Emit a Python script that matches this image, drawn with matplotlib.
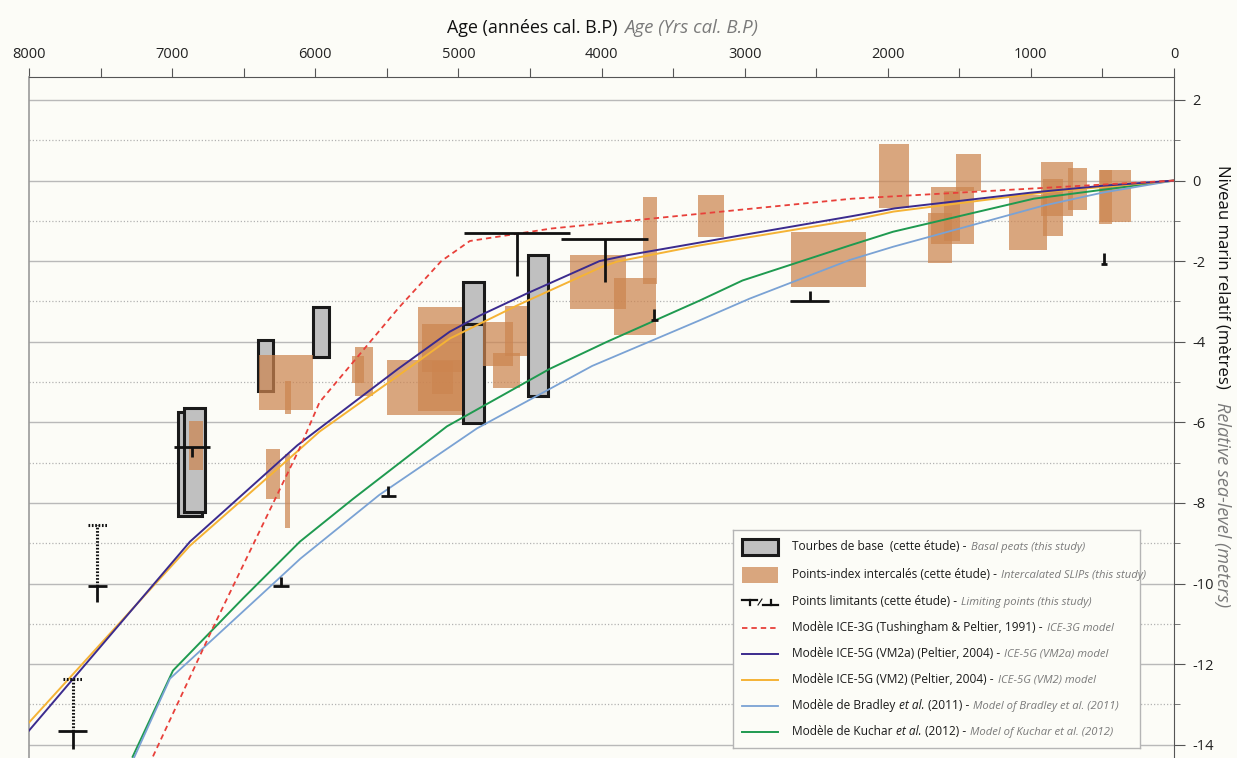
import matplotlib
matplotlib.use("Agg")
import matplotlib.pyplot as plt
from matplotlib.patches import Rectangle
from matplotlib.ticker import MultipleLocator, FixedLocator

plt.rcParams['font.family'] = ['Open Sans', 'DejaVu Sans']
plt.rcParams['axes.unicode_minus'] = False

# ---------------------------------------------------------------
# GIA model curves : age (years cal. BP) / relative sea level (m)
# ---------------------------------------------------------------
ice3g_age = [0, 1000, 2250, 3300, 4350, 4920, 5120, 5420, 5970, 6110, 6715, 7135, 7425]
ice3g_rsl = [0, -0.2, -0.45, -0.82, -1.19, -1.5, -2.0, -3.17, -5.5, -6.65, -11.1, -14.3, -16.5]

ice5g_vm2a_age = [0, 500, 1000, 1950, 2260, 3010, 3815, 4015, 4520, 4850, 5060, 5420, 5970, 6125, 6875, 8000]
ice5g_vm2a_rsl = [0, -0.13, -0.3, -0.69, -0.89, -1.35, -1.85, -2.0, -2.8, -3.35, -3.75, -4.67, -6.15, -6.57, -8.96, -13.65]

ice5g_vm2_age = [0, 850, 1960, 2260, 3315, 3890, 3990, 4590, 5060, 5420, 5970, 6125, 6875, 8000]
ice5g_vm2_rsl = [0, -0.27, -0.77, -0.99, -1.61, -2.01, -2.13, -3.1, -3.92, -4.84, -6.23, -6.72, -9.06, -13.45]

bradley_age = [0, 500, 910, 1960, 2265, 2965, 3315, 4065, 4870, 5552, 6103, 6384, 7015, 7276]
bradley_rsl = [0, -0.3, -0.62, -1.64, -1.97, -2.93, -3.47, -4.6, -6.15, -7.8, -9.38, -10.3, -12.36, -14.4]

kuchar_age = [0, 980, 1963, 2265, 3015, 3315, 3961, 4360, 5080, 5736, 6107, 6505, 6994, 7276]
kuchar_rsl = [0, -0.45, -1.27, -1.61, -2.48, -2.98, -4.0, -4.67, -6.1, -7.9, -8.96, -10.37, -12.16, -14.3]

# ---------------------------------------------------------------
# Basal peats (this study): age range and altitude range
# ---------------------------------------------------------------
peat_age_old = [6960, 6917, 6400, 6016, 4965, 4965, 4513]
peat_age_young = [6792, 6771, 6296, 5904, 4824, 4824, 4374]
peat_top = [-5.75, -5.65, -3.96, -3.13, -2.51, -3.56, -1.84]
peat_bottom = [-8.33, -8.23, -5.22, -4.38, -3.56, -6.02, -5.35]

# ---------------------------------------------------------------
# Intercalated sea-level index points (this study)
# ---------------------------------------------------------------
slip_age_old = [6882, 6344, 6211, 6393, 6211, 5722, 5743, 5499, 5282, 5254, 5185,
                4828, 4758, 4675, 4221, 3913, 3710, 3326, 2676, 2061, 1697, 1719,
                1607, 1523, 1153, 929, 915, 740, 524, 517]
slip_age_young = [6785, 6246, 6177, 6016, 6170, 5597, 5660, 4975, 4975, 4975, 5038,
                  4618, 4570, 4521, 3829, 3619, 3612, 3144, 2152, 1851, 1397, 1551,
                  1496, 1349, 887, 706, 775, 608, 433, 300]
slip_top = [-5.97, -6.67, -6.79, -4.33, -4.98, -4.13, -4.35, -4.45, -3.13, -3.56, -4.48,
            -3.51, -4.28, -3.11, -1.84, -2.41, -0.40, -0.37, -1.27, 0.90, -0.17, -0.80,
            -0.27, 0.65, -0.37, 0.47, 0.05, 0.32, 0.25, 0.27]
slip_bottom = [-7.19, -7.91, -8.61, -5.70, -5.80, -5.35, -5.02, -5.82, -5.72, -4.75, -5.30,
               -4.60, -5.15, -4.35, -3.18, -3.83, -2.56, -1.39, -2.64, -0.67, -1.57, -2.04,
               -1.49, -0.25, -1.72, -0.87, -1.37, -0.72, -1.09, -1.04]

# ---------------------------------------------------------------
# Limiting points (this study): age range, level, end of the stem
# (stem below the bar = upper limit "T", stem above = lower limit)
# ---------------------------------------------------------------
lim_age = [7525, 7696, 6860, 6236, 5495, 4592, 3975, 3633, 2541, 490]
lim_age_old = [7588, 7797, 6986, 6293, 5544, 4963, 4284, 3654, 2681, 511]
lim_age_young = [7455, 7594, 6733, 6180, 5439, 4221, 3675, 3605, 2408, 469]
lim_rsl = [-10.05, -13.65, -6.6, -10.07, -7.82, -1.29, -1.44, -3.47, -3.0, -2.08]
lim_end = [-10.45, -14.1, -6.85, -9.83, -7.57, -2.38, -2.51, -3.18, -2.75, -1.81]
# uncertain upward extension (dotted) for two of the points
lim_ext_index = [0, 1]
lim_ext_top = [-8.56, -12.36]
lim_ext_age_old = [7588, 7762]
lim_ext_age_young = [7455, 7630]

x_ticks = list(range(8000, -1, -1000))
y_ticks = list(range(-14, 3, 2))

BG = '#fcfcf7'
SLIP_COLOR = '#cc8550'
PEAT_COLOR = '#c0c0c0'
C_ICE3G = '#e8403a'
C_VM2A = '#3b2b8e'
C_VM2 = '#f5b335'
C_BRADLEY = '#7aa2d4'
C_KUCHAR = '#1f9a50'
GRAY_TXT = '#7a7a7a'

W, H = 1237, 758
fig = plt.figure(figsize=(W / 100, H / 100), dpi=100)
fig.patch.set_facecolor(BG)

AX_L, AX_R, AX_T, AX_B = 29, 1174, 77, 758
ax = fig.add_axes([AX_L / W, 1 - AX_B / H, (AX_R - AX_L) / W, (AX_B - AX_T) / H])
ax.set_facecolor(BG)
ax.set_xlim(8000, 0)
ax.set_ylim(-14.33, 2.57)

# horizontal reference lines: solid on even metres, dotted on odd metres
for lvl in range(-14, 3):
    if lvl % 2 == 0:
        ax.axhline(lvl, color='#b9b9b9', lw=1.0, zorder=0.5)
    else:
        ax.axhline(lvl, color='#b3b3b3', lw=0.9, ls=(0, (1, 1.6)), zorder=0.5)

# basal peats
for a0, a1, t, b in zip(peat_age_old, peat_age_young, peat_top, peat_bottom):
    ax.add_patch(Rectangle((a1, b), a0 - a1, t - b, facecolor=PEAT_COLOR,
                           edgecolor='#1a1a1a', lw=2.2, zorder=2))

# intercalated SLIPs
for a0, a1, t, b in zip(slip_age_old, slip_age_young, slip_top, slip_bottom):
    ax.add_patch(Rectangle((a1, b), a0 - a1, t - b, facecolor=SLIP_COLOR,
                           edgecolor='none', alpha=0.72, zorder=3))

# model curves
ax.plot(kuchar_age, kuchar_rsl, color=C_KUCHAR, lw=1.4, zorder=4)
ax.plot(bradley_age, bradley_rsl, color=C_BRADLEY, lw=1.3, zorder=4)
ax.plot(ice5g_vm2_age, ice5g_vm2_rsl, color=C_VM2, lw=1.4, zorder=4)
ax.plot(ice5g_vm2a_age, ice5g_vm2a_rsl, color=C_VM2A, lw=1.4, zorder=4)
ax.plot(ice3g_age, ice3g_rsl, color=C_ICE3G, lw=1.3, ls=(0, (3, 2.2)), zorder=4)

# limiting points
for a, a0, a1, r, e in zip(lim_age, lim_age_old, lim_age_young, lim_rsl, lim_end):
    ax.plot([a0, a1], [r, r], color='#111111', lw=2.0, solid_capstyle='butt', zorder=6)
    ax.plot([a, a], [r, e], color='#111111', lw=2.0, solid_capstyle='butt', zorder=6)
for i, top, e0, e1 in zip(lim_ext_index, lim_ext_top, lim_ext_age_old, lim_ext_age_young):
    a = lim_age[i]
    ax.plot([a, a], [lim_rsl[i], top], color='#111111', lw=2.2, ls=(0, (0.55, 0.55)), zorder=6)
    ax.plot([e0, e1], [top, top], color='#111111', lw=2.2, ls=(0, (0.55, 0.55)), zorder=6)

# axes decoration
ax.xaxis.tick_top()
ax.xaxis.set_major_locator(FixedLocator(x_ticks))
ax.xaxis.set_minor_locator(MultipleLocator(500))
ax.set_xticklabels([str(v) for v in x_ticks])
ax.tick_params(axis='x', which='both', direction='out', length=6.5, width=0.8,
               color='#555555', labelsize=10.5, pad=4, labelcolor='#222222')
ax.yaxis.tick_right()
ax.yaxis.set_major_locator(FixedLocator(y_ticks))
ax.yaxis.set_minor_locator(MultipleLocator(1))
ax.set_yticklabels([str(v) for v in y_ticks])
ax.tick_params(axis='y', which='major', direction='out', length=8, width=0.8,
               color='#555555', labelsize=10.5, pad=5, labelcolor='#222222')
ax.tick_params(axis='y', which='minor', direction='out', length=4, width=0.7, color='#777777')
ax.spines['bottom'].set_visible(False)
ax.spines['left'].set_color('#9a9a9a')
ax.spines['left'].set_linewidth(1.2)
ax.spines['top'].set_color('#555555')
ax.spines['top'].set_linewidth(0.8)
ax.spines['right'].set_color('#555555')
ax.spines['right'].set_linewidth(0.8)


def chain_text(host, ann_host, x, y, parts, transform):
    """Write consecutive text pieces with their own style, one after the other."""
    txt, style = parts[0]
    prev = host.text(x, y, txt, transform=transform, ha='left', va='bottom', **style)
    for txt, style, gap in parts[1:]:
        prev = ann_host.annotate(txt, xy=(1, 0), xycoords=prev, xytext=(gap, 0),
                                 textcoords='offset points', ha='left', va='bottom',
                                 annotation_clip=False, **style)
    return prev


# title above the age axis
chain_text(fig, ax, 447 / W, 1 - 37 / H,
           [('Age (années cal. B.P)', dict(fontsize=12.9, color='#111111')),
            ('Age (Yrs cal. B.P)', dict(fontsize=13.4, color=GRAY_TXT, style='italic'), 5)],
           fig.transFigure)

# right-hand label
fig.text(1222 / W, 1 - 165 / H, 'Niveau marin relatif (mètres)', fontsize=12.1,
         color='#111111', rotation=270, ha='center', va='top')
fig.text(1222 / W, 1 - 402 / H, 'Relative sea-level (meters)', fontsize=13.1,
         color=GRAY_TXT, style='italic', rotation=270, ha='center', va='top')

# legend panel
LX0, LY0, LX1, LY1 = 733, 530, 1140, 748
lax = fig.add_axes([LX0 / W, 1 - LY1 / H, (LX1 - LX0) / W, (LY1 - LY0) / H])
lax.set_xlim(0, LX1 - LX0)
lax.set_ylim(LY1 - LY0, 0)
lax.set_facecolor(BG)
lax.set_xticks([])
lax.set_yticks([])
for s in lax.spines.values():
    s.set_color('#b5b5b5')
    s.set_linewidth(1.0)

rows = [17, 45, 72, 98, 124, 150, 176, 202]
SX0, SX1 = 9, 45
lax.add_patch(Rectangle((SX0, rows[0] - 8), SX1 - SX0, 16, facecolor=PEAT_COLOR,
                        edgecolor='#1a1a1a', lw=2.2))
lax.add_patch(Rectangle((SX0, rows[1] - 8), SX1 - SX0, 16, facecolor=SLIP_COLOR,
                        edgecolor='none', alpha=0.72))
r = rows[2]
lax.plot([9, 24], [r - 2, r - 2], color='#111111', lw=1.6)
lax.plot([16.5, 16.5], [r - 2, r + 3], color='#111111', lw=1.6)
lax.plot([25, 29], [r + 3, r - 3], color='#111111', lw=0.8)
lax.plot([30, 45], [r + 3, r + 3], color='#111111', lw=1.6)
lax.plot([37.5, 37.5], [r + 3, r - 2], color='#111111', lw=1.6)
lax.plot([SX0, SX1], [rows[3], rows[3]], color=C_ICE3G, lw=1.3, ls=(0, (3, 2.2)))
lax.plot([SX0, SX1], [rows[4], rows[4]], color=C_VM2A, lw=1.4)
lax.plot([SX0, SX1], [rows[5], rows[5]], color=C_VM2, lw=1.4)
lax.plot([SX0, SX1], [rows[6], rows[6]], color=C_BRADLEY, lw=1.3)
lax.plot([SX0, SX1], [rows[7], rows[7]], color=C_KUCHAR, lw=1.4)

FR = dict(fontsize=8.6, color='#1a1a1a')
FRI = dict(fontsize=8.6, color='#1a1a1a', style='italic')
EN = dict(fontsize=8.1, color=GRAY_TXT, style='italic')
legend_rows = [
    [('Tourbes de base  (cette étude) -', FR), ('Basal peats (this study)', EN, 3)],
    [('Points-index intercalés (cette étude) -', FR), ('Intercalated SLIPs (this study)', EN, 3)],
    [('Points limitants (cette étude) -', FR), ('Limiting points (this study)', EN, 3)],
    [('Modèle ICE-3G (Tushingham & Peltier, 1991) -', FR), ('ICE-3G model', EN, 3)],
    [('Modèle ICE-5G (VM2a) (Peltier, 2004) -', FR), ('ICE-5G (VM2a) model', EN, 3)],
    [('Modèle ICE-5G (VM2) (Peltier, 2004) -', FR), ('ICE-5G (VM2) model', EN, 3)],
    [('Modèle de Bradley', FR), ('et al.', FRI, 2.5), ('(2011) -', FR, 2.5),
     ('Model of Bradley et al. (2011)', EN, 3)],
    [('Modèle de Kuchar', FR), ('et al.', FRI, 2.5), ('(2012) -', FR, 2.5),
     ('Model of Kuchar et al. (2012)', EN, 3)],
]
for r, parts in zip(rows, legend_rows):
    chain_text(lax, lax, 59, r + 6, parts, lax.transData)

fig.savefig('out.png', dpi=100, facecolor=BG)
